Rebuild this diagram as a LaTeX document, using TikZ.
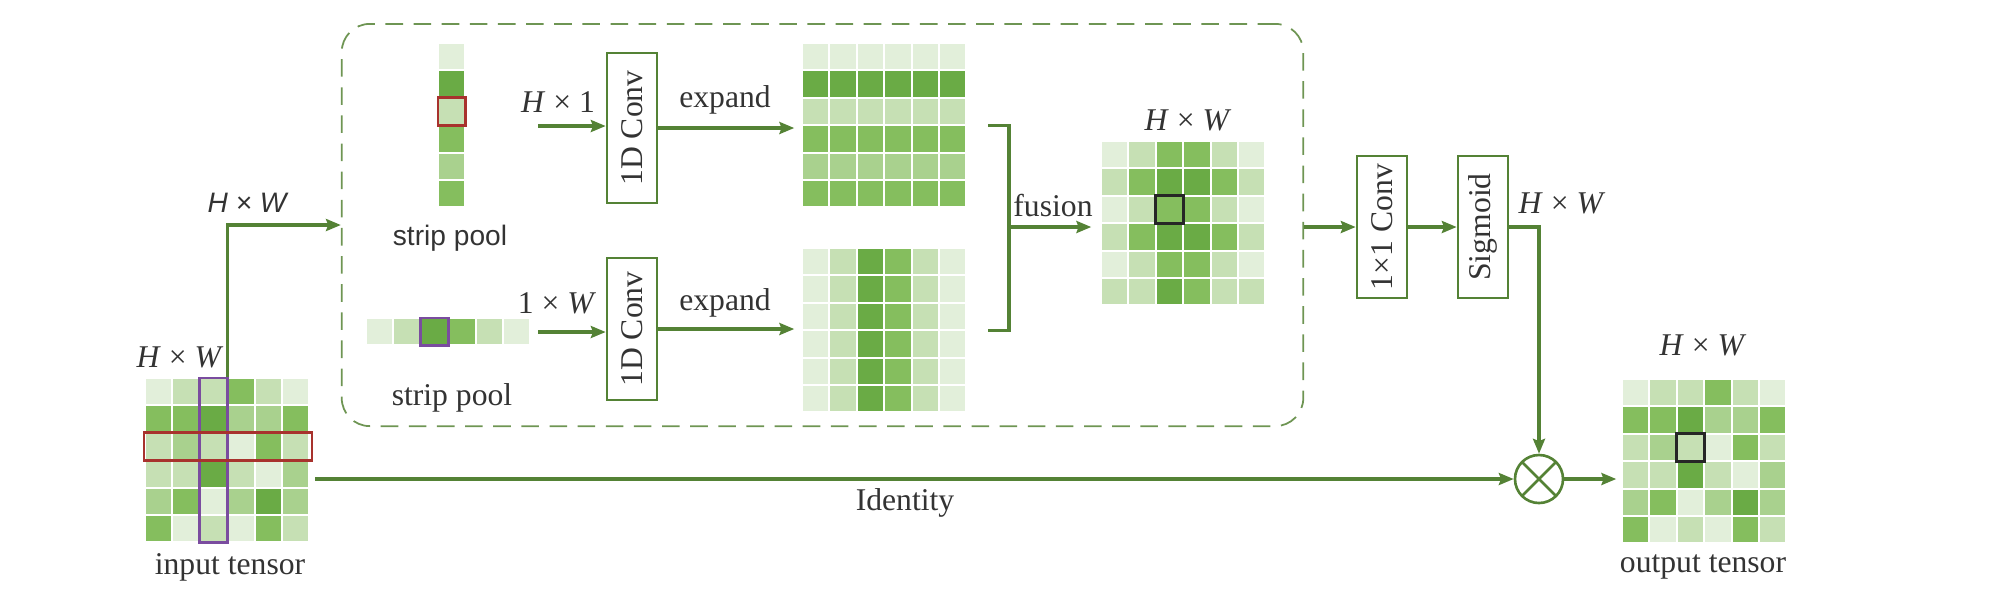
\documentclass[tikz,border=0pt]{standalone}
\usepackage{fontspec}
\setmainfont{Liberation Serif}
\setsansfont{Liberation Sans}
\usepackage{graphicx}
\usetikzlibrary{arrows.meta,calc}

\definecolor{lgreen}{HTML}{548235}
\definecolor{g1}{HTML}{E2EFDA}
\definecolor{g2}{HTML}{C6E0B4}
\definecolor{g3}{HTML}{A9D18E}
\definecolor{g4}{HTML}{85BE5E}
\definecolor{g5}{HTML}{6AAB45}
\definecolor{txt}{HTML}{333333}
\definecolor{redbox}{HTML}{A8322D}
\definecolor{purplebox}{HTML}{7A4C9F}

\tikzset{
  line/.style={draw=lgreen, line width=0.9pt},
  arr/.style={line, -{Stealth[length=4.2pt,width=3.4pt,inset=0.6pt]}},
  opbox/.style={draw=lgreen, line width=0.75pt, minimum width=0.5cm,
    inner sep=0pt, font=\fontsize{9}{10}\selectfont, text=txt},
  lbl/.style={font=\fontsize{9}{10}\selectfont, text=txt, inner sep=1pt},
  sflbl/.style={font=\sffamily\fontsize{8}{9}\selectfont, text=txt, inner sep=1pt},
  cell/.style={draw=white, line width=0.6pt},
  mark box/.style={line width=0.8pt},
}

% 6x6 feature map: name, left, top, rows of shade levels
\newcommand\tensorgrid[4]{%
  \foreach \row [count=\r] in {#4} {
    \foreach \v [count=\k] in \row
      \fill[cell, fill=g\v] ({#2+(\k-1)*27.4},{#3+(\r-1)*27.4}) rectangle ++(27.4,27.4);
  }
  \node[inner sep=0pt, minimum size=1.644cm] (#1) at ({#2+82.2},{#3+82.2}) {};
}

\begin{document}
\begin{tikzpicture}[x=0.01cm, y=-0.01cm]
    \useasboundingbox (0,0) rectangle (1991,593);

    % Input and output tensors
    \tensorgrid{inT}{145}{378}{{1,2,2,4,2,1},{4,4,5,3,3,4},{2,3,2,1,4,2},{2,2,5,2,1,3},{3,4,1,3,5,3},{4,1,2,1,4,2}}
    \tensorgrid{outT}{1622}{379}{{1,2,2,4,2,1},{4,4,5,3,3,4},{2,3,2,1,4,2},{2,2,5,2,1,3},{3,4,1,3,5,3},{4,1,2,1,4,2}}
    \draw[purplebox, mark box] (199.8,378) rectangle (227.2,542.4);
    \draw[redbox, mark box] (144,432.8) rectangle (312,460.2);
    \draw[black!85, mark box] (1676.8,433.8) rectangle (1704.2,461.2);
    \node[lbl] (inHW) at (180,357) {\textit{H} × \textit{W}};
    \node[lbl] (inName) at (230,567) {input tensor};
    \node[lbl] (outHW) at (1703,345) {\textit{H} × \textit{W}};
    \node[lbl] (outName) at (1703,567) {output tensor};

    % Strip pooling branch
    \node[draw=lgreen!85, line width=0.5pt, dash pattern=on 5pt off 3pt,
          rounded corners=8pt, minimum width=9.61cm, minimum height=4.02cm] (branch) at (822.5,225) {};
    \foreach \v [count=\r] in {1,5,2,4,3,4}
        \fill[cell, fill=g\v] (438,{43+(\r-1)*27.4}) rectangle ++(27.4,27.4);
    \foreach \v [count=\k] in {1,2,5,4,2,1}
        \fill[cell, fill=g\v] ({366+(\k-1)*27.4},318) rectangle ++(27.4,27.4);
    \draw[redbox, mark box] (438,97.8) rectangle (465.4,125.2);
    \draw[purplebox, mark box] (420.8,318) rectangle (448.2,345.4);
    \node[sflbl] (poolH) at (450,238) {strip pool};
    \node[lbl] (poolW) at (452,398) {strip pool};

    \tensorgrid{expH}{802}{43}{{1,1,1,1,1,1},{5,5,5,5,5,5},{2,2,2,2,2,2},{4,4,4,4,4,4},{3,3,3,3,3,3},{4,4,4,4,4,4}}
    \tensorgrid{expW}{802}{248}{{1,2,5,4,2,1},{1,2,5,4,2,1},{1,2,5,4,2,1},{1,2,5,4,2,1},{1,2,5,4,2,1},{1,2,5,4,2,1}}
    \tensorgrid{fus}{1101}{141}{{1,2,4,4,2,1},{2,4,5,5,4,2},{1,2,4,4,2,1},{2,4,5,5,4,2},{1,2,4,4,2,1},{2,2,5,4,2,2}}
    \draw[black!85, mark box] (1155.8,195.8) rectangle (1183.2,223.2);
    \node[lbl] (fusHW) at (1188,120) {\textit{H} × \textit{W}};

    \node[opbox, minimum height=1.5cm] (convH) at (632,128) {\rotatebox{90}{1D Conv}};
    \node[opbox, minimum height=1.42cm] (convW) at (632,329) {\rotatebox{90}{1D Conv}};
    \node[opbox, minimum height=1.42cm] (conv1) at (1382,227) {\rotatebox{90}{1×1 Conv}};
    \node[opbox, minimum height=1.42cm] (sig) at (1483,227) {\rotatebox{90}{Sigmoid}};
    \node[circle, draw=lgreen, line width=0.75pt, minimum size=0.48cm, inner sep=0pt,
          path picture={\draw[lgreen, line width=0.75pt]
            (path picture bounding box.north west) -- (path picture bounding box.south east)
            (path picture bounding box.north east) -- (path picture bounding box.south west);}] (mul) at (1539,479) {};

    % Connectors
    \coordinate (inH) at (538,126);
    \coordinate (inW) at (538,332);
    \coordinate (fuse) at (1009,227);
    \draw[arr] (inT.north) |- (branch.west);
    \node[sflbl] (brHW) at (247,203) {\itshape H × W};
    \draw[arr] (inH) -- (inH -| convH.west);
    \node[lbl] (hLbl) at (558,102) {\textit{H} × 1};
    \draw[arr] (inW) -- (inW -| convW.west);
    \node[lbl] (wLbl) at (557,303) {1 × \textit{W}};
    \draw[arr, shorten >=0.7mm] (convH.east) -- (convH.east -| expH.west);
    \node[lbl] (expHLbl) at (725,100) {expand};
    \draw[arr, shorten >=0.7mm] (convW.east) -- (convW.east -| expW.west);
    \node[lbl] (expWLbl) at (725,303) {expand};
    \draw[line] ($(fuse |- expH.east)+(-21,0)$) -- (fuse |- expH.east)
        -- (fuse |- expW.east) -- ++(-21,0);
    \draw[arr, shorten >=0.9mm] (fuse) -- (fuse -| fus.west);
    \node[lbl] (fusLbl) at (1053,205) {fusion};
    \draw[arr] (branch.east |- conv1.west) -- (conv1.west);
    \draw[arr] (conv1) -- (sig);
    \draw[arr] (sig.east) -| (mul.north);
    \node[lbl] (sigHW) at (1562,203) {\textit{H} × \textit{W}};
    \draw[arr, shorten <=0.5mm] (inT.east |- mul.west) -- (mul.west);
    \node[lbl] (idLbl) at (905,503) {Identity};
    \draw[arr, shorten >=0.5mm] (mul.east) -- (mul.east -| outT.west);
\end{tikzpicture}
\end{document}
